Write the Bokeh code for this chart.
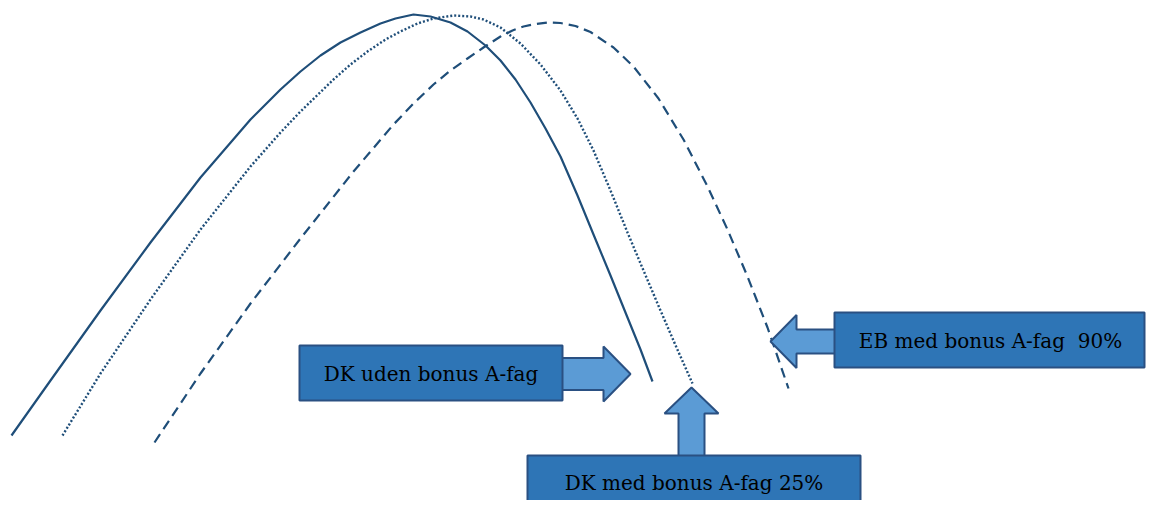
from bokeh.plotting import figure
from bokeh.models import Range1d
from bokeh.embed import file_html
from bokeh.resources import INLINE
from bokeh.core.properties import value

# ---- data: three curves (x, y; y grows downward) ----
solid_x = [11, 50, 100, 150, 200, 250, 280, 300, 320, 340, 360, 380, 395, 413,
           430, 450, 467, 485, 500, 515, 530, 545, 560, 577, 593, 610, 627, 640, 652]
solid_y = [435, 380, 310, 242, 177, 119, 89, 71, 55, 42, 32, 23, 18, 14,
           16, 22, 31, 45, 60, 79, 102, 128, 156, 195, 234, 275, 317, 349, 381]

dotted_x = [62, 100, 150, 200, 250, 280, 300, 333, 350, 367, 385, 400, 417, 433, 453,
            470, 483, 500, 520, 540, 560, 577, 593, 610, 627, 643, 660, 676, 692]
dotted_y = [435, 373, 299, 229, 166, 132, 111, 79, 64, 51, 39, 31, 23, 18, 15,
            16, 19, 27, 43, 64, 90, 118, 150, 190, 232, 270, 310, 347, 383]

dashed_x = [154, 200, 250, 300, 353, 393, 413, 433, 450, 467, 483, 500, 512, 523, 535, 547,
            560, 575, 590, 613, 633, 658, 683, 707, 727, 747, 767, 788]
dashed_y = [442, 373, 303, 238, 171, 124, 103, 84, 70, 58, 47, 36, 30, 26, 23.5, 22,
            22.5, 25.5, 31.5, 47, 66, 98, 139, 186, 229, 276, 327, 388]

labels = ["DK uden bonus A-fag", "DK med bonus A-fag 25%", "EB med bonus A-fag \u00a090%"]

# ---- layout (positions of the label boxes) ----
box_left = [299, 527, 834]
box_right = [562, 860, 1144]
box_top = [345, 455, 312]
box_bottom = [400, 512, 367]
text_x = [430.5, 693.5, 990]
text_y = [373, 482, 340]

LINE = "#1F4E79"
BOX_FILL = "#2E75B6"
ARROW_FILL = "#5B9BD5"
EDGE = "#2A5082"

W, H = 1146, 500
p = figure(width=W, height=H, x_range=Range1d(0, W), y_range=Range1d(H, 0),
           output_backend="svg", toolbar_location=None, min_border=0,
           x_axis_location=None, y_axis_location=None)
p.grid.visible = False
p.outline_line_color = None
p.background_fill_color = "white"
p.border_fill_color = "white"

p.line(solid_x, solid_y, line_color=LINE, line_width=2.2, line_join="round")
p.line(dotted_x, dotted_y, line_color=LINE, line_width=2.4, line_dash="2 2")
p.line(dashed_x, dashed_y, line_color=LINE, line_width=2.2, line_dash="10 6")

# block arrows
def horiz_arrow(x0, tip, yc, shaft_h, head_back, head_h):
    xs = [x0, head_back, head_back, tip, head_back, head_back, x0]
    ys = [yc - shaft_h / 2, yc - shaft_h / 2, yc - head_h / 2, yc, yc + head_h / 2, yc + shaft_h / 2, yc + shaft_h / 2]
    return xs, ys

def up_arrow(y0, tip, xc, shaft_w, head_back, head_w):
    ys = [y0, head_back, head_back, tip, head_back, head_back, y0]
    xs = [xc - shaft_w / 2, xc - shaft_w / 2, xc - head_w / 2, xc, xc + head_w / 2, xc + shaft_w / 2, xc + shaft_w / 2]
    return xs, ys

a1 = horiz_arrow(561, 630, 373.5, 32, 603, 55)
a2 = up_arrow(456, 387, 691, 26, 413, 54)
a3 = horiz_arrow(835, 770, 341, 24, 796, 53)

p.patches([a1[0], a2[0], a3[0]], [a1[1], a2[1], a3[1]],
          fill_color=ARROW_FILL, line_color=EDGE, line_width=2)

p.quad(left=box_left, right=box_right, top=box_top, bottom=box_bottom,
       fill_color=BOX_FILL, line_color=EDGE, line_width=2)

p.text(x=text_x, y=text_y, text=labels, text_align="center", text_baseline="middle",
       text_font=value("DejaVu Serif"), text_font_size="20px", text_color="black")

open("out.html", "w").write(file_html(p, INLINE))
